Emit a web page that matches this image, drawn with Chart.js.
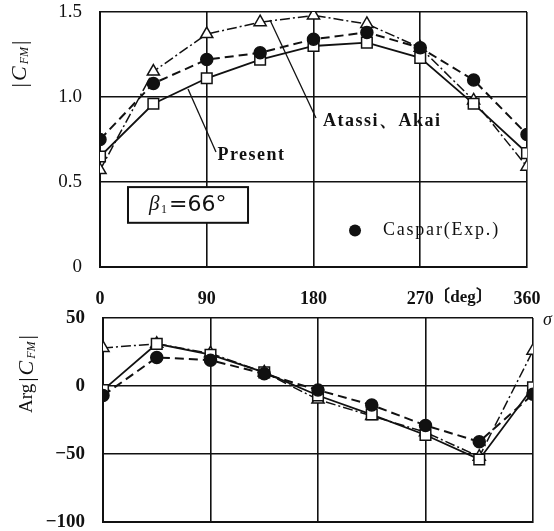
<!DOCTYPE html>
<html>
<head>
<meta charset="utf-8">
<script src="https://cdn.jsdelivr.net/npm/chart.js@4"></script>
<style>
  html, body { margin: 0; padding: 0; background: #fff; }
  .box { position: absolute; left: 0; width: 554px; }
</style>
</head>
<body>
<div class="box" style="top:0;height:310px"><canvas id="topChart"></canvas></div>
<div class="box" style="top:300px;height:231px"><canvas id="botChart"></canvas></div>
<script>
"use strict";
// Data (sigma in degrees)
const angles = [0, 45, 90, 135, 180, 225, 270, 315, 360];
const magCaspar = [0.75, 1.08, 1.22, 1.26, 1.34, 1.38, 1.29, 1.10, 0.78];
const magPresent = [0.65, 0.96, 1.11, 1.22, 1.30, 1.32, 1.23, 0.96, 0.67];
const magAtassi = [0.57, 1.15, 1.37, 1.44, 1.48, 1.43, 1.29, 0.98, 0.59];
const argCaspar = [-7, 21, 19, 9, -3, -14, -29, -41, -6];
const argPresent = [-3, 31, 23, 10, -7, -21, -36, -54, -1];
const argAtassi = [28, 31, 24, 10, -10, -22, -34, -52, 26];
const xTicks = [0, 90, 180, 270, 360];
const magTicks = [0, 0.5, 1.0, 1.5];
const argTicks = [-100, -50, 0, 50];

const INK = "#111";
const SERIF = "'Liberation Serif', 'DejaVu Serif', serif";

const pts = (ys) => angles.map((a, i) => ({ x: a, y: ys[i] }));

function series(label, ys, kind) {
    const base = {
        label: label,
        data: pts(ys),
        borderColor: INK,
        pointBorderColor: INK,
        pointBorderWidth: 1.5,
        tension: 0,
        fill: false,
    };
    if (kind === "caspar") {
        return Object.assign(base, {
            borderWidth: 2, borderDash: [9, 5], pointStyle: "circle",
            pointRadius: 6, pointBackgroundColor: INK, order: 0,
        });
    }
    if (kind === "present") {
        return Object.assign(base, {
            borderWidth: 1.8, pointStyle: "rect",
            pointRadius: 7.5, pointBackgroundColor: "#fff", order: 1,
        });
    }
    return Object.assign(base, {
        borderWidth: 1.5, borderDash: [10, 3, 2, 3], pointStyle: "triangle",
        pointRadius: 7, pointBackgroundColor: "#fff", order: 2,
    });
}

// keep the chart area exactly where the axes say, no label overhang
function noOverhang(s) {
    s.paddingTop = 0; s.paddingBottom = 0; s.paddingLeft = 0; s.paddingRight = 0;
}

// draws |C_FM| style label rotated, centred at (cx, cy)
function rotatedLabel(ctx, cx, cy, prefix) {
    const parts = [];
    if (prefix) parts.push({ t: prefix, f: "19px " + SERIF, dy: 0 });
    parts.push({ t: "|", f: "22px " + SERIF, dy: 0 });
    parts.push({ t: "C", f: "italic 22px " + SERIF, dy: 0 });
    parts.push({ t: "FM", f: "italic 12px " + SERIF, dy: 5 });
    parts.push({ t: "|", f: "22px " + SERIF, dy: 0 });
    ctx.save();
    ctx.translate(cx, cy);
    ctx.rotate(-Math.PI / 2);
    let w = 0;
    parts.forEach(p => { ctx.font = p.f; p.w = ctx.measureText(p.t).width + 2; w += p.w; });
    let x = -w / 2;
    ctx.fillStyle = INK;
    ctx.textBaseline = "middle";
    parts.forEach(p => { ctx.font = p.f; ctx.fillText(p.t, x, p.dy); x += p.w; });
    ctx.restore();
}

const topNotes = {
    id: "topNotes",
    afterDraw(chart) {
        const ctx = chart.ctx;
        const sx = chart.scales.x, sy = chart.scales.y;
        const P = (a, v) => [sx.getPixelForValue(a), sy.getPixelForValue(v)];
        ctx.save();
        ctx.strokeStyle = INK;
        ctx.fillStyle = INK;
        ctx.lineWidth = 1.3;
        // leader lines
        let a = P(97.8, 0.676), b = P(74.2, 1.047);
        ctx.beginPath(); ctx.moveTo(a[0], a[1]); ctx.lineTo(b[0], b[1]); ctx.stroke();
        a = P(182.1, 0.876); b = P(143.3, 1.453);
        ctx.beginPath(); ctx.moveTo(a[0], a[1]); ctx.lineTo(b[0], b[1]); ctx.stroke();
        // labels
        ctx.textBaseline = "middle";
        ctx.font = "bold 18px " + SERIF;
        ctx.letterSpacing = "1.5px";
        let p = P(99, 0.655);
        ctx.fillText("Present", p[0], p[1]);
        p = P(188, 0.855);
        ctx.fillText("Atassi、Akai", p[0], p[1]);
        p = P(238.5, 0.215);
        ctx.font = "18px " + SERIF;
        ctx.letterSpacing = "1.8px";
        ctx.fillText("Caspar(Exp.)", p[0], p[1]);
        ctx.letterSpacing = "0px";
        p = P(215, 0.215);
        ctx.beginPath(); ctx.arc(p[0], p[1], 6, 0, Math.PI * 2); ctx.fill();
        // beta box
        const b1 = P(23.6, 0.47), b2 = P(124.8, 0.26);
        ctx.fillStyle = "#fff";
        ctx.fillRect(b1[0], b1[1], b2[0] - b1[0], b2[1] - b1[1]);
        ctx.lineWidth = 2;
        ctx.strokeRect(b1[0], b1[1], b2[0] - b1[0], b2[1] - b1[1]);
        ctx.fillStyle = INK;
        const cy = (b1[1] + b2[1]) / 2;
        ctx.font = "italic 21px " + SERIF;
        ctx.fillText("β", b1[0] + 21, cy);
        ctx.font = "12px " + SERIF;
        ctx.fillText("1", b1[0] + 33, cy + 5);
        ctx.font = "22px 'DejaVu Sans', sans-serif";
        ctx.fillText("=66°", b1[0] + 41, cy);
        // unit after 270
        ctx.font = "bold 17px " + SERIF + ", 'Noto Sans CJK JP'";
        p = P(270, 0);
        ctx.fillText("〔deg〕", p[0] + 13, chart.chartArea.bottom + 31);
        ctx.restore();
        rotatedLabel(ctx, 20, 63, "");
    },
};

const botNotes = {
    id: "botNotes",
    afterDraw(chart) {
        const ctx = chart.ctx;
        ctx.save();
        ctx.fillStyle = INK;
        ctx.font = "italic 18px " + SERIF;
        ctx.textBaseline = "middle";
        ctx.fillText("σ", chart.chartArea.right + 10, chart.chartArea.top + 2);
        ctx.restore();
        rotatedLabel(ctx, 27, 73, "Arg");
    },
};

function gridOpts() {
    return { color: INK, lineWidth: 1.6, drawTicks: false };
}

// top chart: |C_FM|
const topConfig = {
    type: "line",
    data: {
        datasets: [
            series("Caspar (Exp.)", magCaspar, "caspar"),
            series("Present", magPresent, "present"),
            series("Atassi, Akai", magAtassi, "atassi"),
        ],
    },
    options: {
        responsive: true,
        maintainAspectRatio: false,
        animation: false,
        layout: { padding: { top: 12, right: 27, left: 0, bottom: 0 } },
        plugins: { legend: { display: false }, tooltip: { enabled: false } },
        scales: {
            x: {
                type: "linear", min: 0, max: 360,
                afterBuildTicks: (s) => { s.ticks = xTicks.map(v => ({ value: v })); },
                afterFit: (s) => { s.height = 43; noOverhang(s); },
                grid: gridOpts(),
                border: { color: INK, width: 2 },
                ticks: { color: INK, padding: 22, maxRotation: 0, font: { family: SERIF, size: 18, weight: "bold" } },
            },
            y: {
                min: 0, max: 1.5,
                afterBuildTicks: (s) => { s.ticks = magTicks.map(v => ({ value: v })); },
                afterFit: (s) => { s.width = 100; noOverhang(s); },
                grid: gridOpts(),
                border: { color: INK, width: 2 },
                ticks: {
                    color: INK, padding: 18,
                    font: { family: SERIF, size: 19 },
                    callback: (v) => (v === 0 ? "0" : v.toFixed(1)),
                },
            },
        },
    },
    plugins: [topNotes],
};

// bottom chart: Arg|C_FM|
const botConfig = {
    type: "line",
    data: {
        datasets: [
            series("Caspar (Exp.)", argCaspar, "caspar"),
            series("Present", argPresent, "present"),
            series("Atassi, Akai", argAtassi, "atassi"),
        ],
    },
    options: {
        responsive: true,
        maintainAspectRatio: false,
        animation: false,
        layout: { padding: { top: 18, right: 21, left: 0, bottom: 0 } },
        plugins: { legend: { display: false }, tooltip: { enabled: false } },
        scales: {
            x: {
                type: "linear", min: 0, max: 360,
                afterBuildTicks: (s) => { s.ticks = xTicks.map(v => ({ value: v })); },
                afterFit: (s) => { s.height = 4; noOverhang(s); },
                grid: gridOpts(),
                border: { color: INK, width: 2 },
                ticks: { display: false },
            },
            y: {
                min: -100, max: 50,
                afterBuildTicks: (s) => { s.ticks = argTicks.map(v => ({ value: v })); },
                afterFit: (s) => { s.width = 103; noOverhang(s); },
                grid: gridOpts(),
                border: { color: INK, width: 2 },
                ticks: {
                    color: INK, padding: 18,
                    font: { family: SERIF, size: 19, weight: "bold" },
                    callback: (v) => (v < 0 ? "−" + Math.abs(v) : String(v)),
                },
            },
        },
    },
    plugins: [botNotes],
};

const topChart = new Chart(document.getElementById("topChart"), topConfig);
const botChart = new Chart(document.getElementById("botChart"), botConfig);
</script>
</body>
</html>
